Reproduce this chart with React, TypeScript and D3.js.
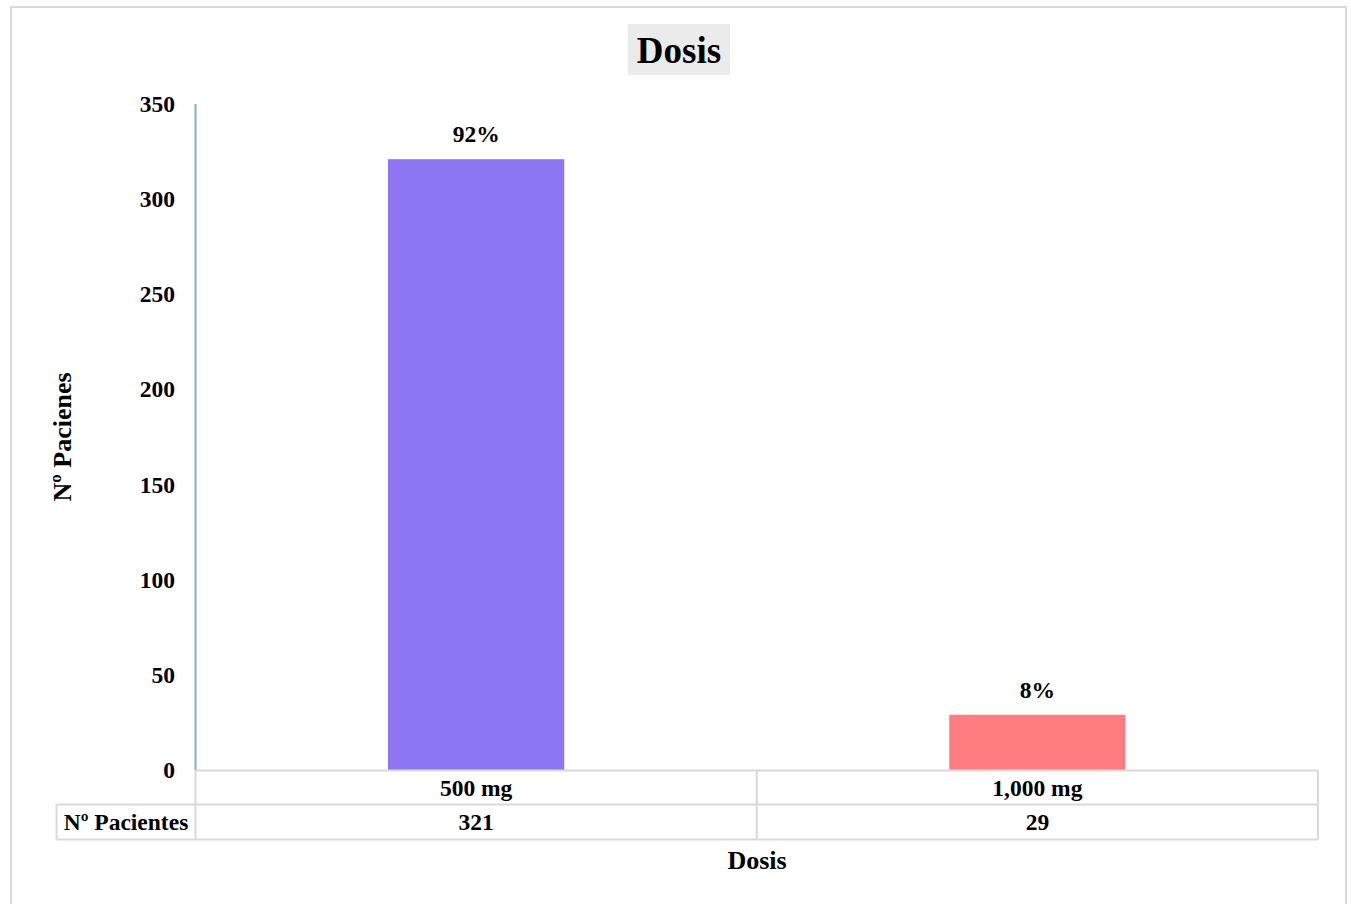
import React from "react";
import * as d3 from "d3";

const categories = ["500 mg", "1,000 mg"];
const values = [321, 29];
const percentLabels = ["92%", "8%"];
const barColors = ["#8e76f3", "#ff7c80"];
const yTicks = [0, 50, 100, 150, 200, 250, 300, 350];
const chartTitle = "Dosis";
const xTitle = "Dosis";
const yTitle = "Nº Pacienes";
const seriesName = "Nº Pacientes";

const W = 1351;
const H = 904;
const FONT = "'Liberation Serif', 'Times New Roman', serif";

export default function App() {
  const plotLeft = 195.5;
  const plotRight = 1318;
  const plotTop = 104;
  const plotBottom = 770;
  const y = d3.scaleLinear().domain([0, 350]).range([plotBottom, plotTop]);
  const x = d3.scaleBand<string>().domain(categories).range([plotLeft, plotRight]).paddingInner(0).paddingOuter(0);
  const bw = x.bandwidth() * 0.314;
  const row1Top = 770.5;
  const row2Top = 804.5;
  const rowBottom = 839.5;
  const headerLeft = 56.5;
  const gridColor = "#d9d9d9";

  return (
    <svg
      width={W}
      height={H}
      style={{ position: "absolute", left: 0, top: 0, background: "#fff" }}
      fontFamily={FONT}
    >
      <rect x={11} y={7} width={1335} height={910} fill="#fff" stroke={gridColor} strokeWidth={2} />
      {/* title */}
      <rect x={628} y={24} width={102} height={51} fill="#ebebeb" />
      <text x={679} y={63} textAnchor="middle" fontSize={37} fontWeight="bold" fill="#000">
        {chartTitle}
      </text>
      {/* y tick labels */}
      {yTicks.map((t) => (
        <text key={t} x={175} y={y(t) + 8} textAnchor="end" fontSize={23.5} fontWeight="bold" fill="#000">
          {t}
        </text>
      ))}
      {/* bars */}
      {categories.map((c, i) => (
        <rect
          key={c}
          x={(x(c) as number) + x.bandwidth() / 2 - bw / 2}
          y={y(values[i])}
          width={bw}
          height={y(0) - y(values[i])}
          fill={barColors[i]}
        />
      ))}
      {/* data labels */}
      {categories.map((c, i) => (
        <text
          key={c + "l"}
          x={(x(c) as number) + x.bandwidth() / 2}
          y={y(values[i]) - 17}
          textAnchor="middle"
          fontSize={23.5}
          fontWeight="bold"
          fill="#000"
        >
          {percentLabels[i]}
        </text>
      ))}
      {/* data table */}
      <g stroke={gridColor} strokeWidth={2} fill="none">
        <line x1={plotLeft} x2={plotRight} y1={row1Top} y2={row1Top} />
        <line x1={headerLeft} x2={plotRight} y1={row2Top} y2={row2Top} />
        <line x1={headerLeft} x2={plotRight} y1={rowBottom} y2={rowBottom} />
        <line x1={headerLeft} x2={headerLeft} y1={row2Top} y2={rowBottom} />
        <line x1={plotLeft} x2={plotLeft} y1={row1Top} y2={rowBottom} />
        {categories.map((c) => (
          <line key={c} x1={(x(c) as number) + x.bandwidth()} x2={(x(c) as number) + x.bandwidth()} y1={row1Top} y2={rowBottom} />
        ))}
      </g>
      {categories.map((c, i) => (
        <g key={c + "t"}>
          <text x={(x(c) as number) + x.bandwidth() / 2} y={795.5} textAnchor="middle" fontSize={23.5} fontWeight="bold" fill="#000">
            {c}
          </text>
          <text x={(x(c) as number) + x.bandwidth() / 2} y={830} textAnchor="middle" fontSize={23.5} fontWeight="bold" fill="#000">
            {values[i]}
          </text>
        </g>
      ))}
      <text x={(headerLeft + plotLeft) / 2} y={830} textAnchor="middle" fontSize={23.5} fontWeight="bold" fill="#000">
        {seriesName}
      </text>
      {/* y axis line */}
      <line x1={plotLeft} x2={plotLeft} y1={plotTop} y2={plotBottom} stroke="#7fb0e2" strokeWidth={2} />
      {/* axis titles */}
      <text x={757} y={868.5} textAnchor="middle" fontSize={26} fontWeight="bold" fill="#000">
        {xTitle}
      </text>
      <text
        transform={`translate(71,437) rotate(-90)`}
        textAnchor="middle"
        fontSize={26}
        fontWeight="bold"
        fill="#000"
      >
        {yTitle}
      </text>
    </svg>
  );
}
